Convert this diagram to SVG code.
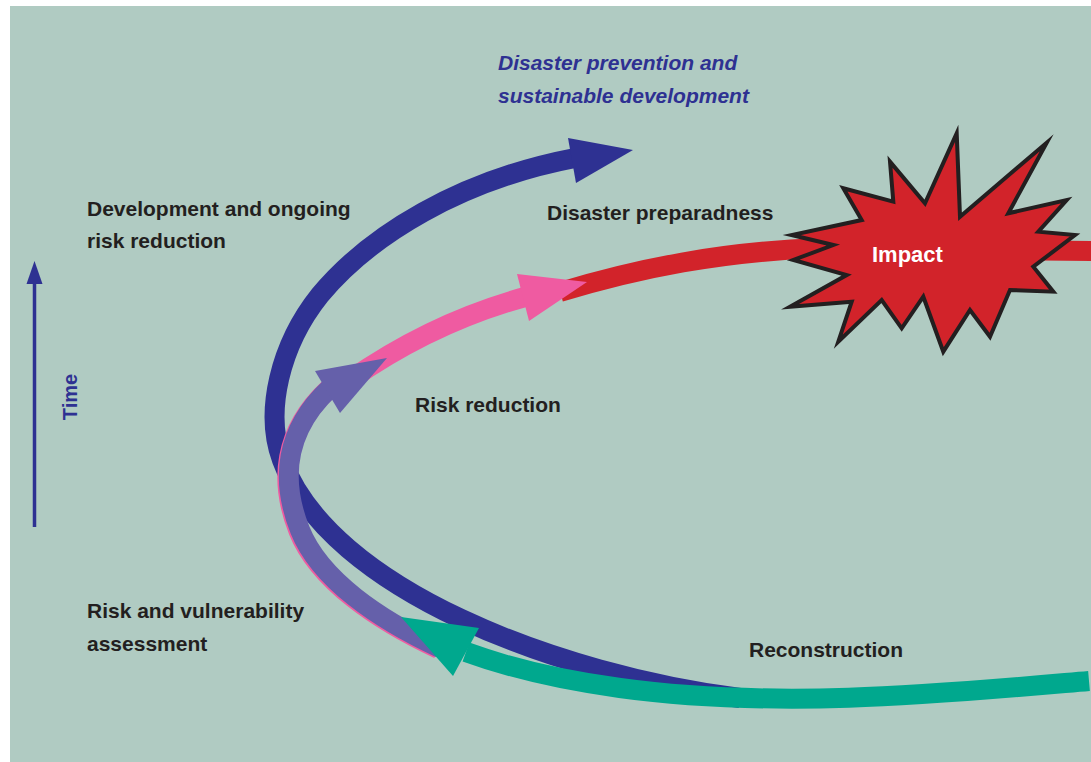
<svg xmlns="http://www.w3.org/2000/svg" width="1091" height="762" viewBox="0 0 1091 762">
  <style>
    .bg { fill: #b0cbc2; }
    .band { fill: none; stroke-width: 20; stroke-linecap: butt; }
    .navy { stroke: #2e3192; }
    .navyf { fill: #2e3192; }
    .red { stroke: #d2232a; }
    .pink { stroke: #ef5ba1; }
    .pinkf { fill: #ef5ba1; }
    .purple { stroke: #6560aa; }
    .purplef { fill: #6560aa; }
    .teal { stroke: #00a88e; }
    .tealf { fill: #00a88e; }
    .lbl { font-family: "Liberation Sans", Arial, sans-serif; font-weight: bold; font-size: 21px; fill: #231f20; }
    .ital { font-style: italic; fill: #2e3192; }
  </style>
  <rect class="bg" x="10" y="6" width="1081" height="756"/>

  <g id="time-axis">
    <line x1="34.5" y1="527" x2="34.5" y2="280" stroke="#2e3192" stroke-width="3.5"/>
    <polygon class="navyf" points="34.5,261 26.5,284 42.5,284"/>
    <text class="lbl" style="fill:#2e3192;font-size:20px" text-anchor="middle" transform="translate(77,397) rotate(-90)">Time</text>
  </g>

  <g id="connectors">
    <path id="cycle-development" class="band navy" d="M740,698 C560,675 330,590 282,460 C264,412 280,345 320,295 C370,235 460,180 575,158"/>
    <polygon class="navyf" points="633,150 568,138 576,183"/>
    <path id="cycle-preparedness" class="band red" d="M560,292 C640,268 720,252 820,248 L1095,251"/>
    <path id="cycle-riskreduction" class="band pink" d="M350,380 C400,345 460,315 525,297"/>
    <polygon class="pinkf" points="587,282 517,274 529,321"/>
    <path class="band pink" transform="translate(-1.5,1)" d="M440,648 C380,620 320,580 300,530 C280,480 285,430 330,388"/>
    <path id="cycle-assessment" class="band purple" d="M440,648 C380,620 320,580 300,530 C280,480 285,430 330,388"/>
    <polygon class="purplef" points="387,358 315,371 340,413"/>
    <path id="cycle-reconstruction" class="band teal" d="M1089,681 C950,693 780,710 620,688 C560,680 510,668 466,652"/>
    <polygon class="tealf" points="401,617 479,628 453,676"/>
  </g>

  <g id="impact">
    <polygon fill="#d2232a" stroke="#231f20" stroke-width="4" stroke-linejoin="miter" stroke-miterlimit="20"
      points="956.7,133.3 960,216.7 1046.7,142.7 1008.3,213.3 1066.7,200 1038.3,231.7 1075,235 1033.3,266.7 1053.3,291.7 1010,290 990,336.7 970,310 943.3,351.7 923.3,296.7 901.7,328.3 881.7,300 838.3,341.7 851.7,301.7 790,306.7 846.7,275 793.3,260 833.3,245 791.7,235 861.7,220 843.3,188.3 893.3,201.7 890,161.7 925,203.3"/>
    <text class="lbl" style="fill:#ffffff;font-size:22px" x="872" y="262">Impact</text>
  </g>

  <g id="label-prevention">
    <text class="lbl ital" x="498" y="70">Disaster prevention and</text>
    <text class="lbl ital" x="498" y="103">sustainable development</text>
  </g>
  <g id="label-development">
    <text class="lbl" x="87" y="216">Development and ongoing</text>
    <text class="lbl" x="87" y="248">risk reduction</text>
  </g>
  <g id="label-preparedness">
    <text class="lbl" x="547" y="220">Disaster preparadness</text>
  </g>
  <g id="label-riskreduction">
    <text class="lbl" x="415" y="412">Risk reduction</text>
  </g>
  <g id="label-assessment">
    <text class="lbl" x="87" y="618">Risk and vulnerability</text>
    <text class="lbl" x="87" y="651">assessment</text>
  </g>
  <g id="label-reconstruction">
    <text class="lbl" x="749" y="657">Reconstruction</text>
  </g>
</svg>
